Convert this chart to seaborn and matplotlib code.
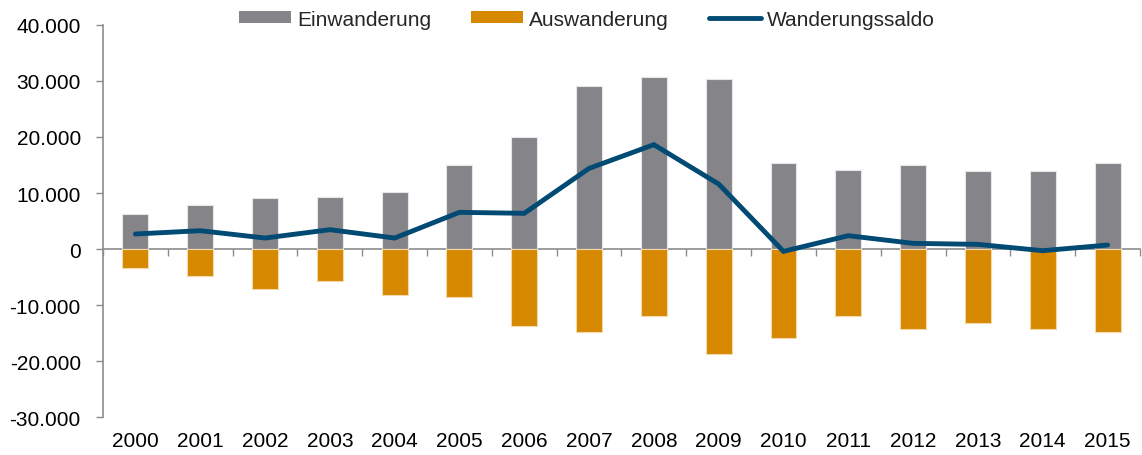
import matplotlib
matplotlib.use("Agg")
import matplotlib.pyplot as plt
import matplotlib.ticker as mticker
from matplotlib.patches import Patch
from matplotlib.lines import Line2D
import numpy as np
import pandas as pd
import seaborn as sns

# Migration figures per year
years = ["2000", "2001", "2002", "2003", "2004", "2005", "2006", "2007",
         "2008", "2009", "2010", "2011", "2012", "2013", "2014", "2015"]
einwanderung = [6250, 7860, 9160, 9340, 10230, 15050, 20050, 29170,
                30650, 30300, 15410, 14110, 15050, 13870, 13870, 15410]
auswanderung = [-3450, -4760, -7200, -5770, -8150, -8510, -13690, -14880,
                -12020, -18690, -15830, -11900, -14290, -13270, -14220, -14820]
saldo = [2680, 3270, 1960, 3450, 1960, 6550, 6370, 14400,
         18630, 11600, -420, 2380, 1010, 830, -300, 710]

labels = ["Einwanderung", "Auswanderung", "Wanderungssaldo"]
c_ein = "#858489"
c_aus = "#D68800"
c_saldo = "#004A73"
c_axis = "#8C8C8C"

df = pd.DataFrame({"Jahr": years, "Ein": einwanderung,
                   "Aus": auswanderung, "Saldo": saldo})

sns.set_theme(style="white")
plt.rcParams["font.family"] = ["Liberation Sans", "DejaVu Sans"]

fig = plt.figure(figsize=(11.42, 4.56), dpi=100)
ax = fig.add_axes([0.0902, 0.0833, 0.9080, 0.8597])

sns.barplot(data=df, x="Jahr", y="Ein", color=c_ein, width=0.4,
            saturation=1, edgecolor="#E6E6E6", linewidth=0.8, ax=ax)
sns.barplot(data=df, x="Jahr", y="Aus", color=c_aus, width=0.4,
            saturation=1, edgecolor="#F2D9A6", linewidth=0.8, ax=ax)
sns.lineplot(data=df, x="Jahr", y="Saldo", color=c_saldo, linewidth=3.5,
             sort=False, ax=ax)
for ln in ax.lines:
    ln.set_solid_capstyle("round")
    ln.set_solid_joinstyle("miter")

ax.set_xlim(-0.5, len(years) - 0.5)
ax.set_ylim(-30000, 40000)
ax.set_xlabel("")
ax.set_ylabel("")

# y axis: German thousands separator
ax.yaxis.set_major_locator(mticker.MultipleLocator(10000))
ax.yaxis.set_major_formatter(
    mticker.FuncFormatter(lambda v, p: f"{int(v):,}".replace(",", ".")))
ax.tick_params(axis="y", direction="out", length=5, width=1, color=c_axis,
               labelsize=15, labelcolor="black", pad=11, left=True)
ax.tick_params(axis="x", length=0, labelsize=15, labelcolor="black", pad=10)

for side in ["top", "right", "bottom"]:
    ax.spines[side].set_visible(False)
ax.spines["left"].set_color(c_axis)
ax.spines["left"].set_linewidth(1.2)

# category axis line through zero with boundary ticks
zero_pos = (0 - (-30000)) / 70000
sec = ax.secondary_xaxis(zero_pos)
sec.set_xticks(np.arange(len(years) + 1) - 0.5)
sec.set_xticklabels([])
sec.tick_params(direction="out", length=5, width=1, color=c_axis)
sec.spines["bottom"].set_color(c_axis)
sec.spines["bottom"].set_linewidth(1.2)
ax.set_zorder(1)
for b in ax.patches:
    b.set_zorder(2)

handles = [Patch(facecolor=c_ein, edgecolor="none"),
           Patch(facecolor=c_aus, edgecolor="none"),
           Line2D([0], [0], color=c_saldo, linewidth=3.5, solid_capstyle="round")]
fig.legend(handles, labels, loc="center", ncol=3, frameon=False,
           bbox_to_anchor=(587 / 1142, 1 - 20 / 456), fontsize=15,
           handlelength=2.5, handleheight=0.5, handletextpad=0.3,
           columnspacing=1.9)

fig.savefig("out.png", dpi=100)
